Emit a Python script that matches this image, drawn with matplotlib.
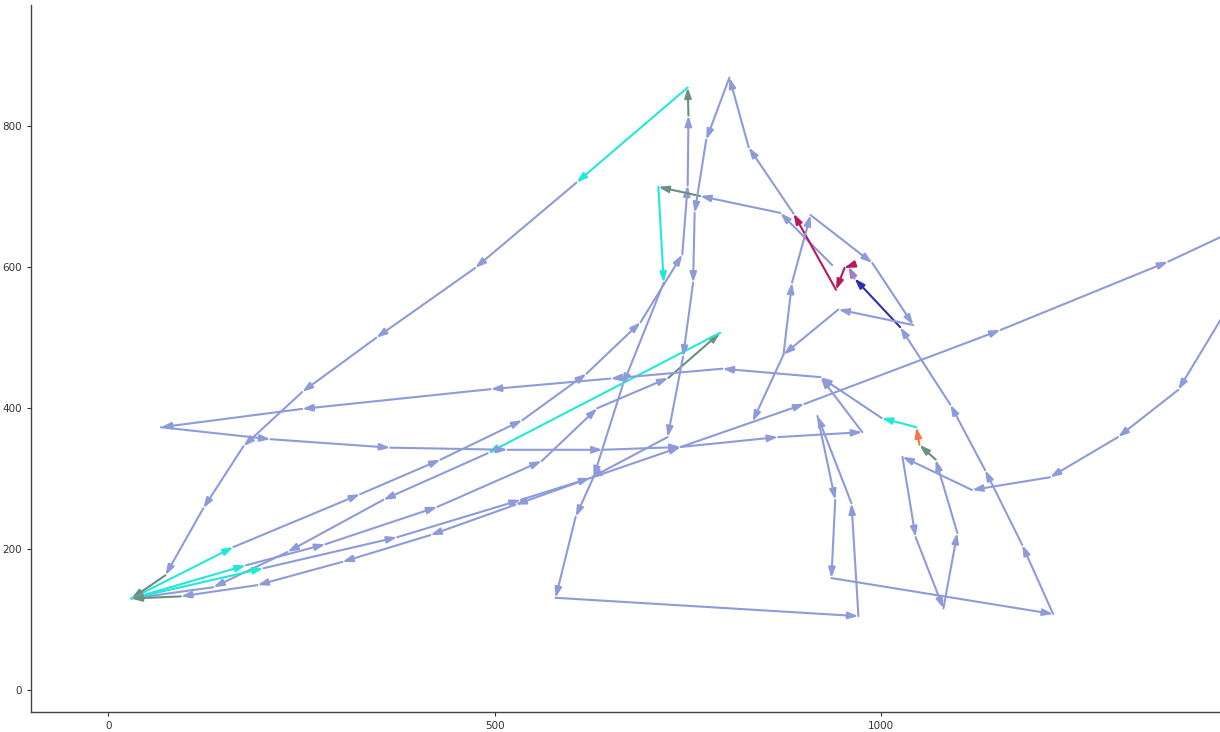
import matplotlib
matplotlib.use("Agg")
import matplotlib.pyplot as plt

# colour keys for each leg
BLUE = "#8e9bdb"
CYAN = "#22e8d6"
GREY = "#6b8f80"
RED = "#b8185c"
NAVY = "#2e2eb4"
ORANGE = "#f5784a"
MAUVE = "#a47cc4"
COLORS = {"b": BLUE, "c": CYAN, "g": GREY, "r": RED, "n": NAVY, "o": ORANGE, "m": MAUVE}

# tour 1
tour1_x = [30, 162, 326, 430, 536, 619, 689, 743, 750, 751, 750, 606, 475, 347, 251, 175, 123, 74, 30]
tour1_y = [130, 203, 278, 327, 383, 449, 522, 618, 716, 815, 855, 720, 599, 500, 423, 346, 258, 163, 130]
tour1_c = "cbbbbbbbbgcbbbbbbg"

# tour 2
tour2_x = [30, 178, 281, 426, 561, 633, 725, 792, 491, 356, 232, 136, 30]
tour2_y = [130, 177, 207, 260, 325, 400, 443, 507, 336, 270, 196, 146, 130]
tour2_c = "cbbbbbgcbbbb"

# tour 3
tour3_x = [30, 201, 374, 534, 624, 741, 901, 1155, 1372, 1530, 1385, 1307, 1219, 1118, 1028,
           1045, 1081, 1099, 1071, 1050, 1046, 1001, 922, 795, 650, 495, 251, 68, 210, 365,
           517, 640, 741, 867, 976, 922]
tour3_y = [130, 173, 217, 270, 301, 345, 406, 511, 608, 689, 426, 359, 302, 284, 331,
           217, 116, 223, 327, 348, 373, 386, 444, 456, 442, 427, 399, 373, 356, 344,
           341, 341, 345, 359, 366, 444]
tour3_c = "cbbbbbbbbbbbbbbbbbgocbbbbbbbbbbbbbb"

# tour 4
tour4_x = [937, 870, 766, 712, 719, 666, 628, 605, 579, 971, 962, 918, 941, 936, 1223, 1183,
           1135, 1090, 1025, 966, 958, 953, 942, 887, 829, 804, 774, 759, 757, 744, 724, 624,
           527, 417, 303, 193, 94, 30]
tour4_y = [603, 677, 701, 714, 578, 433, 302, 246, 131, 105, 265, 389, 270, 159, 108, 206,
           312, 405, 515, 584, 601, 599, 568, 676, 770, 869, 781, 677, 578, 473, 359, 301,
           263, 220, 182, 149, 133, 130]
tour4_c = "bbgcbbbbbbbbbbbbbbnmrrrbbbbbbbbbbbbbg"

# tour 5
tour5_x = [874, 885, 909, 989, 1042, 945, 874, 834]
tour5_y = [476, 578, 674, 606, 518, 540, 476, 381]
tour5_c = "bbbbbbb"

tours = [
    (tour1_x, tour1_y, tour1_c),
    (tour2_x, tour2_y, tour2_c),
    (tour3_x, tour3_y, tour3_c),
    (tour4_x, tour4_y, tour4_c),
    (tour5_x, tour5_y, tour5_c),
]

fig = plt.figure(figsize=(12.2, 7.32), dpi=100)
ax = fig.add_axes([31 / 1220, 20 / 732, 1189 / 1220, 707 / 732])

for xs, ys, cs in tours:
    for i in range(len(xs) - 1):
        ax.annotate(
            "",
            xy=(xs[i + 1], ys[i + 1]),
            xytext=(xs[i], ys[i]),
            arrowprops=dict(
                arrowstyle="-|>,head_length=0.6,head_width=0.2",
                color=COLORS[cs[i]],
                lw=1.5,
                mutation_scale=10,
                shrinkA=0,
                shrinkB=0,
            ),
            annotation_clip=False,
            zorder=2,
        )

ax.set_xlim(-100, 1439)
ax.set_ylim(-31, 972)
ax.set_xticks([0, 500, 1000])
ax.set_yticks([0, 200, 400, 600, 800])
ax.tick_params(labelsize=7.5, colors="#333333", length=3, width=0.8)
for side in ("top", "right"):
    ax.spines[side].set_visible(False)
for side in ("left", "bottom"):
    ax.spines[side].set_color("#444444")
    ax.spines[side].set_linewidth(1.0)

fig.savefig("out.png", dpi=100)
